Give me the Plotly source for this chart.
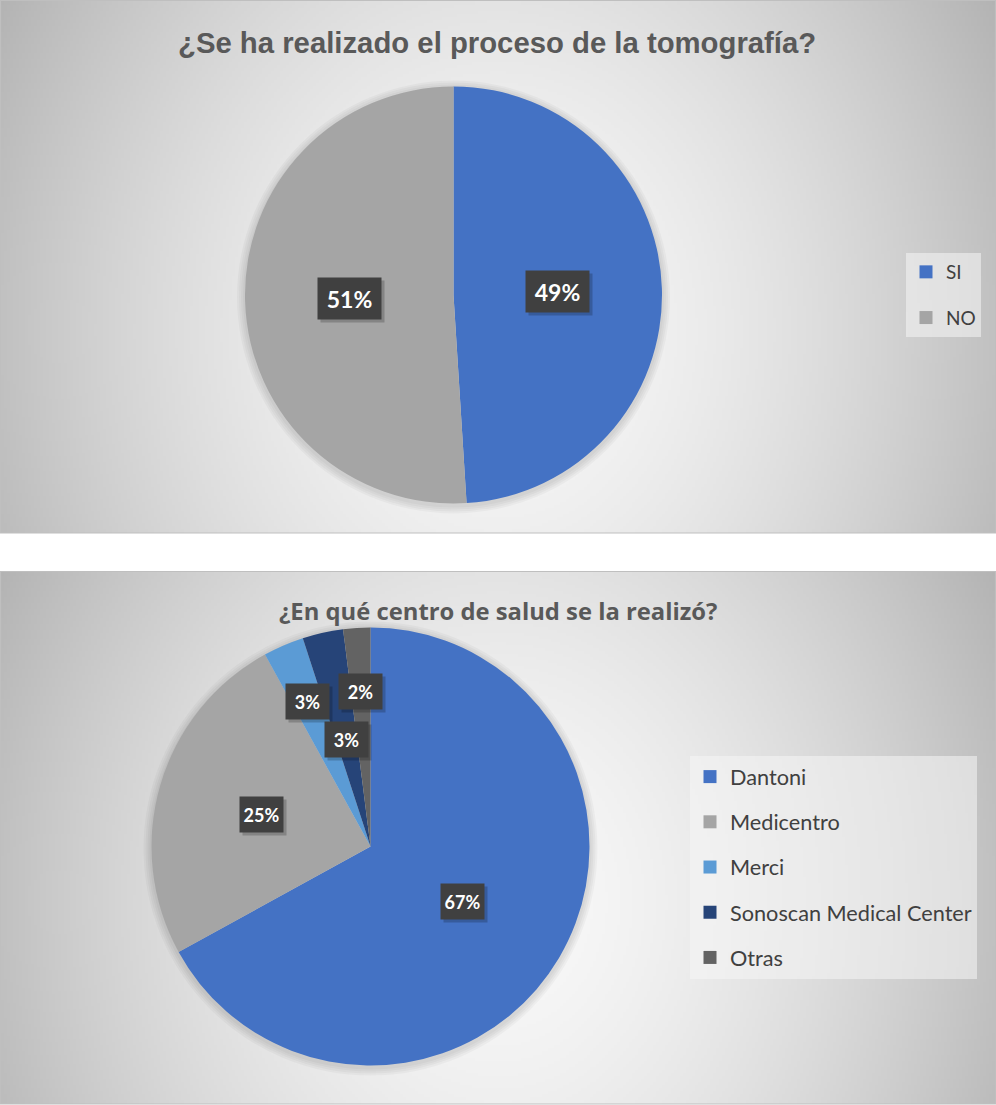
import base64
import struct
import zlib

import numpy as np
import plotly.graph_objects as go

# ---------------- data ----------------
q1_title = "¿Se ha realizado el proceso de la tomografía?"
q1_labels = ["SI", "NO"]
q1_values = [49, 51]
q1_colors = ["#4472C4", "#A5A5A5"]

q2_title = "¿En qué centro de salud se la realizó?"
q2_labels = ["Dantoni", "Medicentro", "Merci", "Sonoscan Medical Center", "Otras"]
q2_values = [67, 25, 3, 3, 2]
q2_colors = ["#4472C4", "#A5A5A5", "#5B9BD5", "#264478", "#636363"]

# ---------------- layout geometry (pixels) ----------------
W, H = 996, 1105
panels = [(0, 533), (571, 1104)]           # top / bottom y of each chart panel
pie_geo = [dict(cx=453.5, cy=295, r=208.5), dict(cx=370.5, cy=846.5, r=219)]
label_rfrac = [[0.5, 0.5], [0.49, 0.52, 0.72, 0.50, 0.71]]
label_font = [23, 18]
label_box = [(59, 37), (39, 31)]
title_pos = [(497, 43), (498, 611)]


def px_x(x):
    return x / W


def px_y(y):
    return 1 - y / H


def gray_png_uri(arr):
    h, w = arr.shape
    raw = b"".join(b"\x00" + arr[i].tobytes() for i in range(h))

    def chunk(t, d):
        return (struct.pack(">I", len(d)) + t + d
                + struct.pack(">I", zlib.crc32(t + d) & 0xFFFFFFFF))

    png = (b"\x89PNG\r\n\x1a\n"
           + chunk(b"IHDR", struct.pack(">IIBBBBB", w, h, 8, 0, 0, 0, 0))
           + chunk(b"IDAT", zlib.compress(raw, 9))
           + chunk(b"IEND", b""))
    return "data:image/png;base64," + base64.b64encode(png).decode()


def gradient(wpx, hpx):
    gw, gh = wpx // 3, hpx // 3
    u = (np.arange(gw) + 0.5) / gw
    v = (np.arange(gh) + 0.5) / gh
    U, V = np.meshgrid(u, v)
    r = np.sqrt(((U - 0.5) / 0.5) ** 2 + (0.45 * (V - 0.62) / 0.5) ** 2)
    L = 249 - 56 * np.clip(r, 0, 1.25) ** 1.6
    return np.clip(L, 0, 255).astype(np.uint8)


fig = go.Figure()

pies = [(q1_labels, q1_values, q1_colors), (q2_labels, q2_values, q2_colors)]
legend_names = ["legend", "legend2"]

for k, (labs, vals, cols) in enumerate(pies):
    g = pie_geo[k]
    fig.add_trace(go.Pie(
        labels=labs, values=vals, sort=False, direction="clockwise", rotation=0,
        marker=dict(colors=cols, line=dict(width=0)),
        textinfo="none", showlegend=False, hoverinfo="label+percent",
        domain=dict(x=[px_x(g["cx"] - g["r"]), px_x(g["cx"] + g["r"])],
                    y=[px_y(g["cy"] + g["r"]), px_y(g["cy"] - g["r"])]),
    ))
    # legend entries
    for i, (lab, col) in enumerate(zip(labs, cols)):
        fig.add_trace(go.Scatter(
            x=[None], y=[None], mode="markers", name=lab,
            marker=dict(symbol="square", size=13, color=col),
            legend=legend_names[k], legendgroup=f"{k}_{i}", showlegend=True,
            hoverinfo="skip",
        ))

# background panels
images = []
shapes = []
for (top, bot) in panels:
    hp = bot - top
    images.append(dict(
        source=gray_png_uri(gradient(W, hp)), xref="paper", yref="paper",
        x=0, y=px_y(top), sizex=1, sizey=hp / H, sizing="stretch",
        xanchor="left", yanchor="top", layer="below",
    ))
    shapes.append(dict(type="rect", xref="paper", yref="paper",
                       x0=px_x(0.5), x1=px_x(W - 0.5), y0=px_y(bot), y1=px_y(top + 0.5),
                       line=dict(color="#BFBFBF", width=1.2), fillcolor="rgba(0,0,0,0)",
                       layer="below"))

# soft shadow halo around each pie
for g in pie_geo:
    for dr in (2, 4, 6, 8):
        shapes.append(dict(type="circle", xref="paper", yref="paper",
                           x0=px_x(g["cx"] - g["r"] - dr), x1=px_x(g["cx"] + g["r"] + dr),
                           y0=px_y(g["cy"] + 2 + g["r"] + dr), y1=px_y(g["cy"] + 2 - g["r"] - dr),
                           line=dict(width=0), fillcolor="rgba(0,0,0,0.03)", layer="below"))

# data labels
annotations = []
for k, (labs, vals, cols) in enumerate(pies):
    g = pie_geo[k]
    total = float(sum(vals))
    cum = 0.0
    for i, v in enumerate(vals):
        theta = 2 * np.pi * (cum + v / 2) / total
        cum += v
        rr = label_rfrac[k][i] * g["r"]
        lx = g["cx"] + rr * np.sin(theta)
        ly = g["cy"] - rr * np.cos(theta)
        txt = f"{round(100 * v / total):.0f}%"
        bw, bh = label_box[k]
        common = dict(x=px_x(lx), y=px_y(ly), xref="paper", yref="paper",
                      xanchor="center", yanchor="middle", showarrow=False,
                      width=bw, height=bh, borderpad=2)
        annotations.append(dict(
            text=" ", bgcolor="rgba(0,0,0,0.2)", xshift=3, yshift=-3,
            font=dict(size=label_font[k]), **common,
        ))
        annotations.append(dict(
            text=f"<b>{txt}</b>", bgcolor="#404040",
            font=dict(family="Lato", size=label_font[k], color="white"), **common,
        ))

# titles
annotations.append(dict(
    x=px_x(title_pos[0][0]), y=px_y(title_pos[0][1]), xref="paper", yref="paper",
    xanchor="center", yanchor="middle",
    text=f"<b>{q1_title}</b>", showarrow=False,
    font=dict(family="Liberation Sans, Arial", size=29.3, color="#595959"),
))
annotations.append(dict(
    x=px_x(title_pos[1][0]), y=px_y(title_pos[1][1]), xref="paper", yref="paper",
    xanchor="center", yanchor="middle",
    text=f"<b>{q2_title}</b>", showarrow=False,
    font=dict(family="Open Sans", size=23.8, color="#595959"),
))

legend_common = dict(
    xanchor="left", yanchor="top", bgcolor="rgba(246,246,246,0.55)", borderwidth=0,
    itemclick=False, itemdoubleclick=False,
)

fig.update_layout(
    width=W, height=H, margin=dict(l=0, r=0, t=0, b=0),
    paper_bgcolor="white", plot_bgcolor="rgba(0,0,0,0)",
    xaxis=dict(visible=False), yaxis=dict(visible=False),
    images=images, shapes=shapes, annotations=annotations,
    legend=dict(x=px_x(906), y=px_y(253), tracegroupgap=18,
                font=dict(family="Lato", size=19, color="#404040"), **legend_common),
    legend2=dict(x=px_x(690), y=px_y(756), tracegroupgap=14,
                 font=dict(family="Lato", size=21.7, color="#404040"), **legend_common),
)

fig.write_html("out.html")
